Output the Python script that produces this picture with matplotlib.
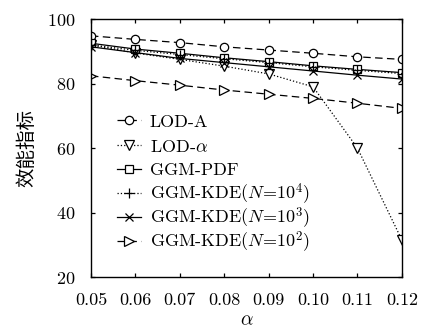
import matplotlib
matplotlib.use('Agg')
import matplotlib.pyplot as plt
from matplotlib.legend import Legend

plt.rcParams['font.family'] = ['cmr10', 'DejaVu Serif']
plt.rcParams['mathtext.fontset'] = 'cm'
plt.rcParams['axes.formatter.use_mathtext'] = True

# Data
alpha = [0.05, 0.06, 0.07, 0.08, 0.09, 0.10, 0.11, 0.12]
lod_a = [94.8, 93.7, 92.7, 91.4, 90.4, 89.4, 88.3, 87.5]
lod_alpha = [92.0, 89.5, 87.5, 85.4, 83.0, 79.0, 60.0, 31.5]
ggm_pdf = [92.5, 90.7, 89.4, 88.0, 86.8, 85.5, 84.4, 83.4]
kde_1e4 = [92.0, 90.3, 89.0, 87.7, 86.5, 85.2, 84.1, 83.1]
kde_1e3 = [91.4, 89.6, 87.8, 86.5, 85.2, 83.9, 82.6, 81.4]
kde_1e2 = [82.4, 80.9, 79.5, 78.0, 76.7, 75.4, 73.9, 72.3]

fig = plt.figure(figsize=(4.23, 3.29), dpi=100)
ax = fig.add_axes([0.215, 0.158, 0.735, 0.784])

kw = dict(color='black', lw=0.9, mfc='white', mec='black', mew=0.9)
dash = (6, 3.5)
lines = []
lines += ax.plot(alpha, lod_a, ls='--', dashes=dash, marker='o', ms=6, label='LOD-A', **kw)
lines += ax.plot(alpha, lod_alpha, ls=':', marker='v', ms=7, label=r'LOD-$\alpha$', **kw)
lines += ax.plot(alpha, ggm_pdf, ls='-', marker='s', ms=6, label='GGM-PDF', **kw)
lines += ax.plot(alpha, kde_1e4, ls=':', marker='+', ms=7, label=r'GGM-KDE($N$=10$^4$)', **kw)
lines += ax.plot(alpha, kde_1e3, ls='-', marker='x', ms=6, label=r'GGM-KDE($N$=10$^3$)', **kw)
lines += ax.plot(alpha, kde_1e2, ls='--', dashes=dash, marker='>', ms=7, label=r'GGM-KDE($N$=10$^2$)', **kw)

ax.set_xlim(0.05, 0.12)
ax.set_ylim(20, 100)
ax.set_xticks(alpha)
ax.set_xticklabels(['%.2f' % a for a in alpha])
ax.set_yticks([20, 40, 60, 80, 100])
ax.tick_params(direction='in', top=True, right=True, length=3, labelsize=13, width=0.9)
ax.tick_params(axis='x', pad=11)
ax.tick_params(axis='y', pad=11)
for s in ax.spines.values():
    s.set_linewidth(1.0)

ax.set_xlabel(r'$\alpha$', fontsize=14, labelpad=3)
ax.set_ylabel('效能指标', fontsize=14, family=['Noto Sans CJK SC'], labelpad=7)

# legend rows evenly spaced (one legend per row)
row_y = [0.601, 0.506, 0.413, 0.322, 0.229, 0.136]
for ln, y in zip(lines, row_y):
    leg = Legend(ax, [ln], [ln.get_label()], loc='center left', bbox_to_anchor=(0.085, y),
                 frameon=False, fontsize=13, handlelength=1.3, handletextpad=0.5,
                 borderpad=0, borderaxespad=0)
    ax.add_artist(leg)

fig.savefig('out.png', dpi=100)
